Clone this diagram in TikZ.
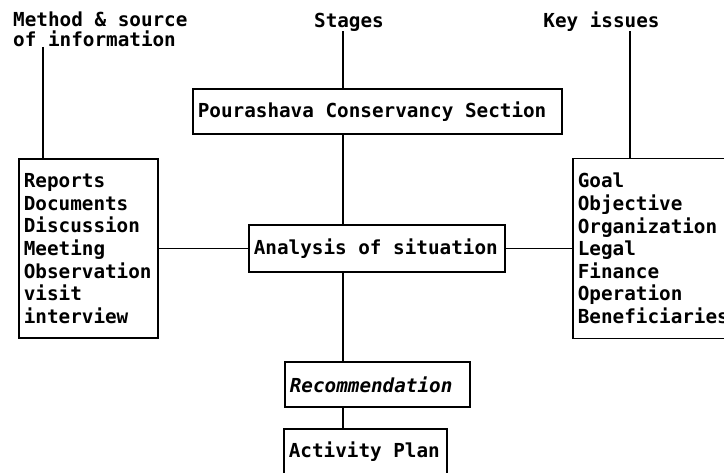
\documentclass[tikz,border=0pt]{standalone}
\usepackage{fontspec}
\setmonofont{DejaVu Sans Mono}
\usepackage{tikz}

\begin{document}
\begin{tikzpicture}[x=1pt,y=-1pt,
  every node/.style={font=\ttfamily\bfseries\fontsize{19.3}{22.6}\selectfont,inner sep=0pt},
  stagebox/.style={draw,line width=1.6pt,inner xsep=5pt,anchor=west,
    execute at begin node={\spaceskip=11.62pt\relax}},
  link/.style={line width=1.6pt}]
 \useasboundingbox (0,0) rectangle (724,472);

 %% column headings
 \node[align=left,anchor=north west] (method) at (13,12) {Method \& source\\[-3pt]of information};
 \node[anchor=base] (stages) at (349,27) {Stages};
 \node[anchor=base] (key) at (601.5,27) {Key issues};

 %% stages
 \node[stagebox,text width=359pt,minimum height=45pt] (conservancy) at (192,111.5) {Pourashava Conservancy Section};
 \node[stagebox,text width=246pt,minimum height=47pt] (analysis) at (248,248.5) {Analysis of situation};
 \node[stagebox,text width=175pt,minimum height=45pt] (recommend) at (284,384.5) {\itshape Recommendation};
 \node[stagebox,text width=153pt,minimum height=46pt] (activity) at (283,452) {Activity Plan};

 %% side boxes
 \node[stagebox,text width=129pt,minimum height=179pt] (sources) at (18,248.5)
   {Reports\\Documents\\Discussion\\Meeting\\Observation\\visit\\interview};
 \node[stagebox,text width=156pt,minimum height=180pt] (issues) at (572,248.5)
   {Goal\\Objective\\Organization\\Legal\\Finance\\Operation\\Beneficiaries};

 %%%%%%%%%%%%%%%%%%%%%%%%%%%%%%%%%%%
 \coordinate (spine) at (343,0);
 \coordinate (lx) at (43,0);
 \coordinate (kx) at (630,0);

 \draw[link] (stages.south -| spine)--(conservancy.north -| spine);
 \draw[link] (conservancy.south -| spine)--(analysis.north -| spine);
 \draw[link] (analysis.south -| spine)--(recommend.north -| spine);
 \draw[link] (recommend.south -| spine)--(activity.north -| spine);
 \draw[link] (method.south -| lx)--(sources.north -| lx);
 \draw[link] (key.south -| kx)--(issues.north -| kx);
 \draw[link] (sources.east)--(analysis.west);
 \draw[link] (analysis.east)--(issues.west);

\end{tikzpicture}
\end{document}
